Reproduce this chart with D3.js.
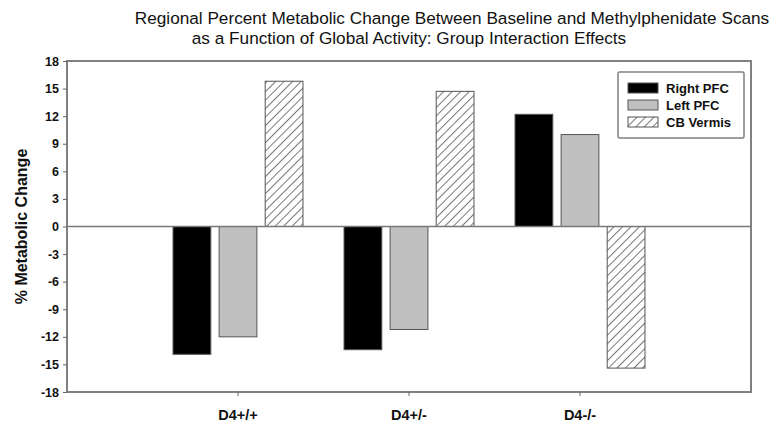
<!DOCTYPE html>
<html>
<head>
<meta charset="utf-8">
<script src="https://cdn.jsdelivr.net/npm/d3@7.9.0/dist/d3.min.js"></script>
<style>
  body { margin: 0; background: #fff; }
  svg { font-family: "Liberation Sans", Arial, sans-serif; }
</style>
</head>
<body>
<svg id="chart" width="776" height="432"></svg>
<script>
const groups = ['D4+/+', 'D4+/-', 'D4-/-'];
const series = ['Right PFC', 'Left PFC', 'CB Vermis'];
const rightPFC = [-13.9, -13.4, 12.2];
const leftPFC = [-12.0, -11.2, 10.0];
const cbVermis = [15.8, 14.7, -15.4];
const yTicks = [18, 15, 12, 9, 6, 3, 0, -3, -6, -9, -12, -15, -18];

const values = [rightPFC, leftPFC, cbVermis];
const fills = ['#000000', '#c0c0c0', 'url(#hatch)'];

const margin = { left: 67, right: 25, top: 61, bottom: 40 };
const width = 776, height = 432;

const svg = d3.select('#chart');

// hatch pattern for CB Vermis
const defs = svg.append('defs');
const pat = defs.append('pattern')
    .attr('id', 'hatch')
    .attr('patternUnits', 'userSpaceOnUse')
    .attr('width', 6).attr('height', 6)
    .attr('patternTransform', 'rotate(45)');
pat.append('rect').attr('width', 6).attr('height', 6).attr('fill', '#fff');
pat.append('line')
    .attr('x1', 0).attr('y1', 0).attr('x2', 0).attr('y2', 6)
    .attr('stroke', '#555').attr('stroke-width', 1.6);

let x = d3.scaleBand()
    .domain(groups)
    .range([margin.left, width - margin.right])
    .paddingInner(0.24)
    .paddingOuter(0.62);

let xInner = d3.scaleBand()
    .domain(series)
    .range([0, x.bandwidth()])
    .paddingInner(0.18);

let y = d3.scaleLinear()
    .domain([-18, 18])
    .range([height - margin.bottom, margin.top]);

// title
svg.append('text')
    .attr('x', 452).attr('y', 24)
    .attr('text-anchor', 'middle')
    .attr('font-size', 17.2)
    .attr('fill', '#111')
    .text('Regional Percent Metabolic Change Between Baseline and Methylphenidate Scans');
svg.append('text')
    .attr('x', 409).attr('y', 44)
    .attr('text-anchor', 'middle')
    .attr('font-size', 17.2)
    .attr('fill', '#111')
    .text('as a Function of Global Activity: Group Interaction Effects');

// bars
groups.forEach((g, gi) => {
    svg.append('g')
        .selectAll('rect')
        .data(series)
        .enter()
        .append('rect')
        .attr('x', s => x(g) + xInner(s))
        .attr('width', xInner.bandwidth())
        .attr('y', (s, si) => y(Math.max(0, values[si][gi])))
        .attr('height', (s, si) => Math.abs(y(values[si][gi]) - y(0)))
        .attr('fill', (s, si) => fills[si])
        .attr('stroke', '#555')
        .attr('stroke-width', 1);
});

// zero line
svg.append('line')
    .attr('x1', margin.left).attr('x2', width - margin.right)
    .attr('y1', y(0)).attr('y2', y(0))
    .attr('stroke', '#777').attr('stroke-width', 1.5);

// frame
svg.append('rect')
    .attr('x', margin.left).attr('y', margin.top)
    .attr('width', width - margin.left - margin.right)
    .attr('height', height - margin.top - margin.bottom)
    .attr('fill', 'none')
    .attr('stroke', '#808080')
    .attr('stroke-width', 2);

// y axis
let yAxis = svg.append('g')
    .attr('transform', `translate(${margin.left},0)`)
    .call(d3.axisLeft(y).tickValues(yTicks).tickFormat(d => String(d)).tickSize(4).tickPadding(4));
yAxis.select('.domain').remove();
yAxis.selectAll('.tick line').attr('stroke', '#666');
yAxis.selectAll('.tick text')
    .attr('font-size', 12.5)
    .attr('font-weight', 'bold')
    .attr('font-family', '"Liberation Sans", Arial, sans-serif')
    .attr('fill', '#111');

// x axis
let xAxis = svg.append('g')
    .attr('transform', `translate(0,${height - margin.bottom})`)
    .call(d3.axisBottom(x).tickSize(4).tickPadding(14));
xAxis.select('.domain').remove();
xAxis.selectAll('.tick line').attr('stroke', '#666');
xAxis.selectAll('.tick text')
    .attr('font-size', 14.5)
    .attr('font-weight', 'bold')
    .attr('font-family', '"Liberation Sans", Arial, sans-serif')
    .attr('fill', '#111');

// y title
svg.append('text')
    .attr('transform', `translate(27,${y(0)}) rotate(-90)`)
    .attr('text-anchor', 'middle')
    .attr('font-size', 16)
    .attr('font-weight', 'bold')
    .attr('fill', '#111')
    .text('% Metabolic Change');

// legend
let legend = svg.append('g').attr('transform', 'translate(618,72)');
legend.append('rect')
    .attr('width', 126).attr('height', 66)
    .attr('rx', 1.5)
    .attr('fill', '#fff')
    .attr('stroke', '#808080')
    .attr('stroke-width', 1.5);
let items = legend.selectAll('g.item')
    .data(series)
    .enter()
    .append('g')
    .attr('class', 'item')
    .attr('transform', (d, i) => `translate(10,${11 + i * 17})`);
items.append('rect')
    .attr('width', 30).attr('height', 10)
    .attr('fill', (d, i) => fills[i])
    .attr('stroke', '#555')
    .attr('stroke-width', 1);
items.append('text')
    .attr('x', 38).attr('y', 5)
    .attr('dy', '0.35em')
    .attr('font-size', 13)
    .attr('font-weight', 'bold')
    .attr('fill', '#111')
    .text(d => d);
</script>
</body>
</html>
